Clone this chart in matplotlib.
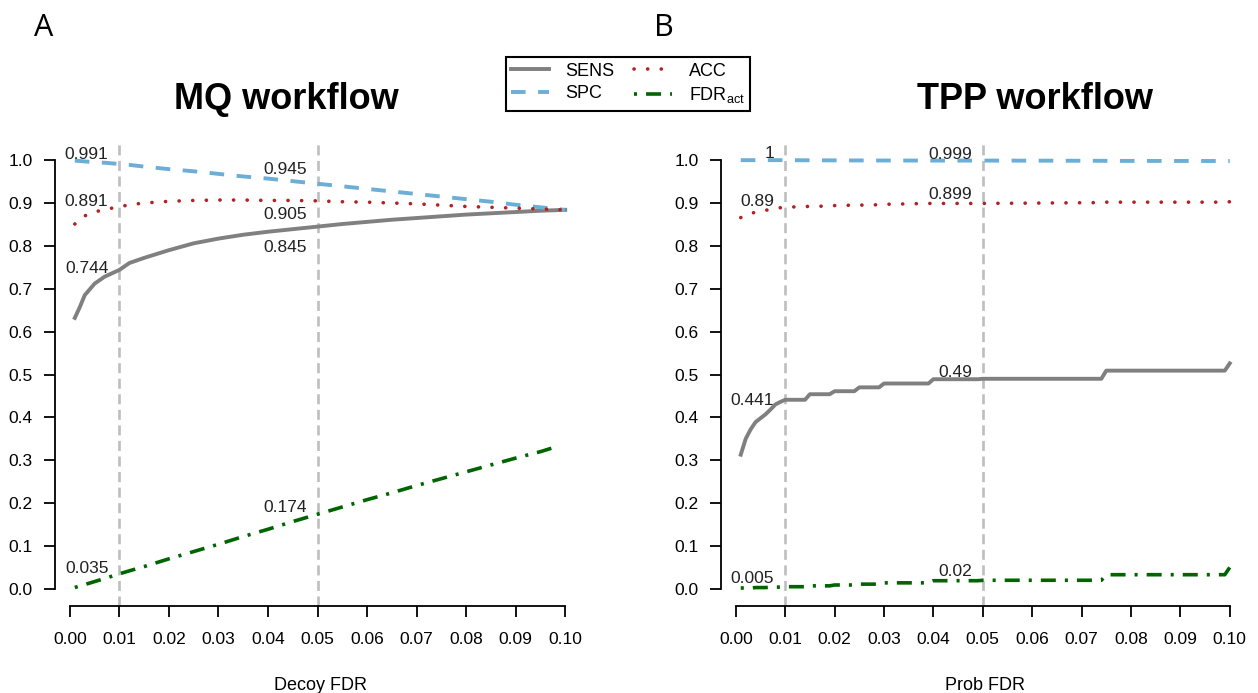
import numpy as np
import matplotlib
matplotlib.use("Agg")
import matplotlib.pyplot as plt
from matplotlib.lines import Line2D

plt.rcParams['font.family'] = ['Liberation Sans', 'DejaVu Sans']
plt.rcParams['lines.scale_dashes'] = False

# MQ workflow (decoy FDR threshold)
mq_fdr = [0.001, 0.002, 0.003, 0.005, 0.007, 0.01, 0.012, 0.015, 0.02, 0.025, 0.03, 0.035,
          0.04, 0.045, 0.05, 0.055, 0.06, 0.065, 0.07, 0.075, 0.08, 0.085, 0.09, 0.095, 0.0975, 0.1]
mq_sens = [0.632, 0.657, 0.685, 0.712, 0.728, 0.744, 0.760, 0.772, 0.790, 0.806, 0.817, 0.826,
           0.833, 0.839, 0.845, 0.851, 0.856, 0.861, 0.865, 0.869, 0.873, 0.876, 0.879, 0.882, 0.883, 0.884]
mq_spc = [0.999, 0.998, 0.997, 0.995, 0.994, 0.991, 0.989, 0.985, 0.979, 0.974, 0.968, 0.962,
          0.957, 0.951, 0.945, 0.939, 0.933, 0.927, 0.921, 0.915, 0.909, 0.903, 0.896, 0.890, 0.887, 0.884]
mq_acc = [0.851, 0.862, 0.870, 0.879, 0.885, 0.891, 0.896, 0.900, 0.904, 0.906, 0.907, 0.907,
          0.906, 0.906, 0.905, 0.903, 0.902, 0.900, 0.898, 0.895, 0.892, 0.890, 0.888, 0.886, 0.885, 0.884]
mq_fdract = [0.003, 0.007, 0.010, 0.017, 0.024, 0.035, 0.042, 0.052, 0.070, 0.087, 0.104, 0.122,
             0.139, 0.157, 0.174, 0.191, 0.208, 0.224, 0.241, 0.257, 0.273, 0.289, 0.305, 0.320, 0.329, np.nan]

# TPP workflow (probability FDR threshold)
tpp_fdr = [0.001, 0.002, 0.003, 0.004, 0.005, 0.006, 0.007, 0.008, 0.009, 0.01, 0.014, 0.015, 0.019,
           0.02, 0.024, 0.025, 0.029, 0.03, 0.039, 0.04, 0.049, 0.05, 0.074, 0.075, 0.099, 0.1]
tpp_sens = [0.313, 0.350, 0.372, 0.389, 0.398, 0.407, 0.418, 0.430, 0.436, 0.441, 0.441, 0.454, 0.454,
            0.461, 0.461, 0.470, 0.470, 0.479, 0.479, 0.489, 0.489, 0.490, 0.490, 0.509, 0.509, 0.526]
tpp_spc = [1.0, 1.0, 1.0, 1.0, 1.0, 1.0, 1.0, 1.0, 1.0, 1.0, 0.9997, 0.9997, 0.9995,
           0.9995, 0.9993, 0.9993, 0.9992, 0.9992, 0.999, 0.999, 0.999, 0.999, 0.9985, 0.9983, 0.998, 0.998]
tpp_acc = [0.866, 0.871, 0.875, 0.879, 0.881, 0.883, 0.885, 0.887, 0.889, 0.890, 0.892, 0.892, 0.893,
           0.894, 0.895, 0.895, 0.896, 0.897, 0.899, 0.899, 0.899, 0.899, 0.901, 0.902, 0.902, 0.903]
tpp_fdract = [0.002, 0.002, 0.002, 0.003, 0.003, 0.003, 0.004, 0.004, 0.004, 0.005, 0.005, 0.007, 0.007,
              0.009, 0.009, 0.011, 0.011, 0.014, 0.014, 0.019, 0.019, 0.020, 0.020, 0.033, 0.033, 0.050]

cutoffs = [0.01, 0.05]

styles = {
    "SENS": dict(color="#808080", lw=2.8, ls="-"),
    "SPC": dict(color="#6baed6", lw=2.8, ls=(0, (10.5, 9.0))),
    "ACC": dict(color="#b22222", lw=2.6, ls=(0, (0.1, 9.7)), dash_capstyle="round"),
    "FDRact": dict(color="#006400", lw=2.6, ls=(0, (2.2, 6.5, 10.8, 6.5))),
}

# pixel offsets (dx, dy) of the value labels at each cutoff
mq_offsets = {"SPC": [(-11, 5), (-11, 10)], "ACC": [(-11, 1), (-11, -18)],
              "SENS": [(-11, -3), (-11, -25)], "FDRact": [(-11, 1), (-11, 2)]}
tpp_offsets = {"SPC": [(-11, 2), (-11, 2)], "ACC": [(-11, 1), (-11, 4)],
               "SENS": [(-11, -5), (-11, 2)], "FDRact": [(-11, 4), (-11, 4)]}

W, H = 1258, 693
fig = plt.figure(figsize=(W / 100, H / 100), dpi=100)


def draw_panel(ax, x, series, offsets, xlabel, xcenter):
    for c in cutoffs:
        ax.axvline(c, color="#bebebe", lw=1.9, ls=(0, (7.2, 4.0)), zorder=1)
    for name, y in series.items():
        ax.plot(x, y, zorder=2, **styles[name])
    for name, y in series.items():
        for c, (dx, dy) in zip(cutoffs, offsets[name]):
            v = float(np.interp(c, x, y))
            ax.annotate(f"{round(v, 3):g}", (c, v), xytext=(dx, dy), textcoords="offset pixels",
                        ha="right", va="baseline", fontsize=12.5, color="#222222", zorder=3)
    ax.set_xlim(-0.003, 0.104)
    ax.set_ylim(-0.04, 1.04)
    ax.set_xticks(np.arange(0, 0.101, 0.01), [f"{t:.2f}" for t in np.arange(0, 0.101, 0.01)])
    ax.set_yticks(np.arange(0, 1.01, 0.1), [f"{t:.1f}" for t in np.arange(0, 1.01, 0.1)])
    for s in ["top", "right"]:
        ax.spines[s].set_visible(False)
    ax.spines["left"].set_bounds(0, 1)
    ax.spines["bottom"].set_bounds(0, 0.1)
    for s in ["left", "bottom"]:
        ax.spines[s].set_linewidth(1.3)
    ax.tick_params(axis="both", length=8, width=1.3, labelsize=12.5)
    ax.tick_params(axis="x", pad=11)
    ax.tick_params(axis="y", pad=8)
    fig.text(xcenter / W, 1 - 690 / H, xlabel, ha="center", va="baseline", fontsize=13)


ax1 = fig.add_axes([55 / W, 1 - 606 / H, 530 / W, 463 / H])
draw_panel(ax1, mq_fdr, {"SENS": mq_sens, "SPC": mq_spc, "ACC": mq_acc, "FDRact": mq_fdract},
           mq_offsets, "Decoy FDR", 320)

ax2 = fig.add_axes([721 / W, 1 - 606 / H, 528.5 / W, 463 / H])
draw_panel(ax2, tpp_fdr, {"SENS": tpp_sens, "SPC": tpp_spc, "ACC": tpp_acc, "FDRact": tpp_fdract},
           tpp_offsets, "Prob FDR", 985)

fig.text(286 / W, 1 - 109 / H, "MQ workflow", ha="center", va="baseline", fontsize=26, fontweight="bold")
fig.text(1035 / W, 1 - 109 / H, "TPP workflow", ha="center", va="baseline", fontsize=26, fontweight="bold")
fig.text(44 / W, 1 - 36 / H, "A", ha="center", va="baseline", fontsize=22, family="Open Sans")
fig.text(664 / W, 1 - 36 / H, "B", ha="center", va="baseline", fontsize=22, family="Open Sans")

handles = [Line2D([], [], **styles[k]) for k in ["SENS", "SPC", "ACC", "FDRact"]]
labels = ["SENS", "SPC", "ACC", r"FDR$_{\mathregular{act}}$"]
leg = fig.legend(handles, labels, ncol=2, loc="center", bbox_to_anchor=(628 / W, 1 - 84 / H),
                 fontsize=13, frameon=True, fancybox=False, edgecolor="black", framealpha=1,
                 handlelength=2.1, handletextpad=0.9, columnspacing=1.1, borderpad=0.3,
                 labelspacing=0.3)
leg.get_frame().set_linewidth(1.5)

fig.savefig("out.png", dpi=100)
